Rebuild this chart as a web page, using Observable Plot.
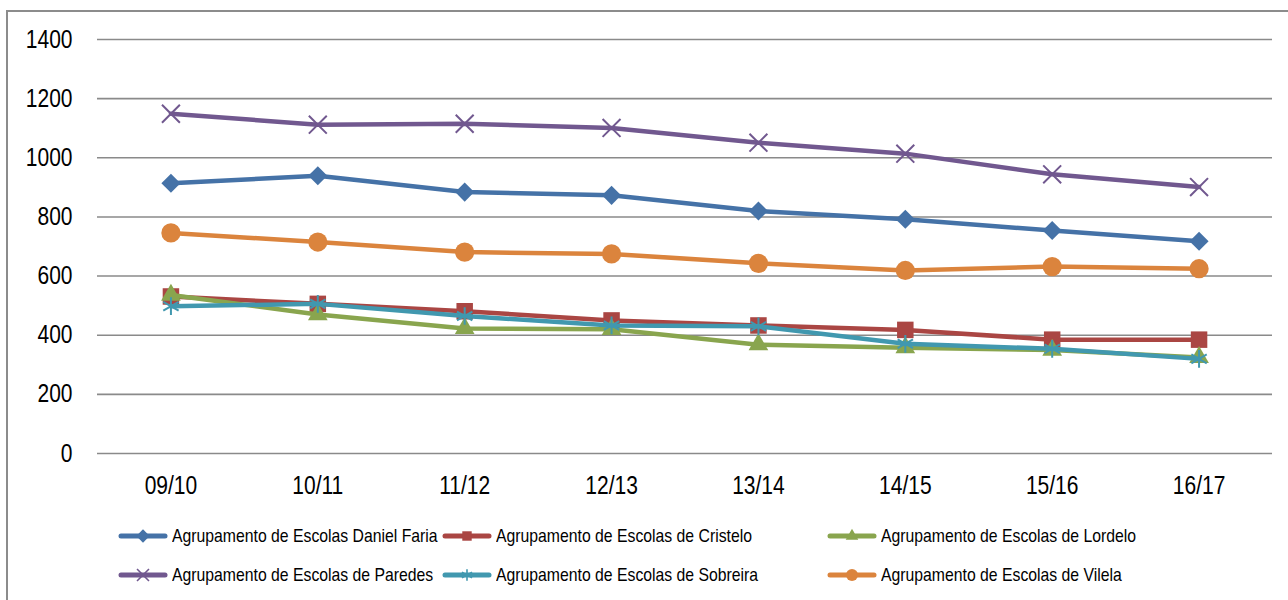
<!DOCTYPE html>
<html><head><meta charset="utf-8">
<script src="https://cdn.jsdelivr.net/npm/d3@7"></script>
<script src="https://cdn.jsdelivr.net/npm/@observablehq/plot@0.6"></script>
<style>
body{margin:0;background:#fff;width:1288px;height:600px;overflow:hidden;position:relative;font-family:"Liberation Sans",Arial,sans-serif;}
#frame{position:absolute;left:6px;top:10px;width:1400px;height:700px;border:2px solid #8c8c8c;box-sizing:border-box;}
#chart{position:absolute;left:0;top:0;}
.item{position:absolute;display:flex;align-items:center;height:24px;font-size:19px;color:#000;white-space:nowrap;}
.item svg{margin-right:4px;overflow:visible;flex:none;}
.item span{display:inline-block;transform:scaleX(0.83);transform-origin:0 50%;}
</style>
</head><body>
<div id="frame"></div>
<div id="chart"></div>
<div id="legend"></div>
<script>
const years = ["09/10","10/11","11/12","12/13","13/14","14/15","15/16","16/17"];
const yTicks = [0,200,400,600,800,1000,1200,1400];
const danielFaria = [914, 939, 884, 873, 820, 792, 754, 718];
const cristelo    = [531, 506, 481, 450, 433, 418, 385, 385];
const lordelo     = [536, 470, 423, 420, 368, 358, 350, 325];
const paredes     = [1149, 1112, 1115, 1101, 1051, 1014, 944, 901];
const sobreira    = [498, 506, 465, 433, 430, 371, 354, 320];
const vilela      = [746, 715, 681, 675, 643, 619, 632, 625];
const seriesNames = [
  "Agrupamento de Escolas Daniel Faria",
  "Agrupamento de Escolas de Cristelo",
  "Agrupamento de Escolas de Lordelo",
  "Agrupamento de Escolas de Paredes",
  "Agrupamento de Escolas de Sobreira",
  "Agrupamento de Escolas de Vilela"
];
const seriesValues = [danielFaria, cristelo, lordelo, paredes, sobreira, vilela];
const seriesColors = ["#4572A7","#AA4643","#89A54E","#71588F","#4198AF","#DB843D"];
const seriesSymbols = ["diamond2","square2","triangle2","times","asterisk","circle"];
const symbolR = {diamond2:8.6, square2:10.5, triangle2:9.4, times:8.2, asterisk:8.4, circle:9.6};
const strokeSymbols = new Set(["times","asterisk"]);

const series = seriesNames.map((name,k)=>({
  name, color:seriesColors[k], symbol:seriesSymbols[k],
  data: years.map((year,i)=>({year, value:seriesValues[k][i]}))
}));

const font = '"Liberation Sans",Arial,sans-serif';
const marks = [Plot.gridY(yTicks,{stroke:"#8a8a8a", strokeOpacity:1, strokeWidth:1.6})];
for (const s of series) {
  marks.push(Plot.lineY(s.data,{x:"year", y:"value", stroke:s.color, strokeWidth:4.5, strokeLinejoin:"round"}));
  const isStroke = strokeSymbols.has(s.symbol);
  marks.push(Plot.dot(s.data,{x:"year", y:"value", symbol:()=>s.symbol, r:symbolR[s.symbol],
    fill: isStroke ? "none" : s.color, stroke: isStroke ? s.color : "none", strokeWidth: isStroke ? 2 : 0}));
}
const chart = Plot.plot({
  width:1288, height:500, marginLeft:97, marginRight:16, marginTop:39, marginBottom:47,
  style:{fontFamily:font, fontSize:"25px", color:"#000", background:"transparent", overflow:"visible"},
  x:{type:"point", domain:years, padding:0.5, round:false, label:null, tickSize:0, tickPadding:23},
  y:{domain:[0,1400], ticks:yTicks, tickFormat:d=>String(d), label:null, tickSize:0, tickPadding:25},
  symbol:{type:"identity"},
  marks
});
document.getElementById("chart").appendChild(chart);
// condense axis text to match the narrow face of the original
chart.querySelectorAll("text").forEach(t=>{
  const w = t.getComputedTextLength();
  t.setAttribute("textLength", (w*0.84).toFixed(1));
  t.setAttribute("lengthAdjust","spacingAndGlyphs");
});

// legend
const legendCols = [118, 442, 827];
const legendRows = [524, 563];
const legend = document.getElementById("legend");
const symMap = {diamond2:d3.symbolDiamond2, square2:d3.symbolSquare2, triangle2:d3.symbolTriangle2, times:d3.symbolTimes, asterisk:d3.symbolAsterisk, circle:d3.symbolCircle};
series.forEach((s,k)=>{
  const col = k%3, row = Math.floor(k/3);
  const div = document.createElement("div");
  div.className="item";
  div.style.left = legendCols[col]+"px";
  div.style.top = legendRows[row]+"px";
  const isStroke = strokeSymbols.has(s.symbol);
  const path = d3.symbol(symMap[s.symbol], Math.PI*Math.pow(isStroke?5.5:6,2))();
  div.innerHTML = `<svg width="50" height="20" viewBox="0 0 50 20">
    <line x1="3" y1="10" x2="47" y2="10" stroke="${s.color}" stroke-width="5" stroke-linecap="round"/>
    <path d="${path}" transform="translate(25,10)" fill="${isStroke?'none':s.color}" stroke="${isStroke?s.color:'none'}" stroke-width="1.6"/>
  </svg><span>${s.name}</span>`;
  legend.appendChild(div);
});
</script>
</body></html>
